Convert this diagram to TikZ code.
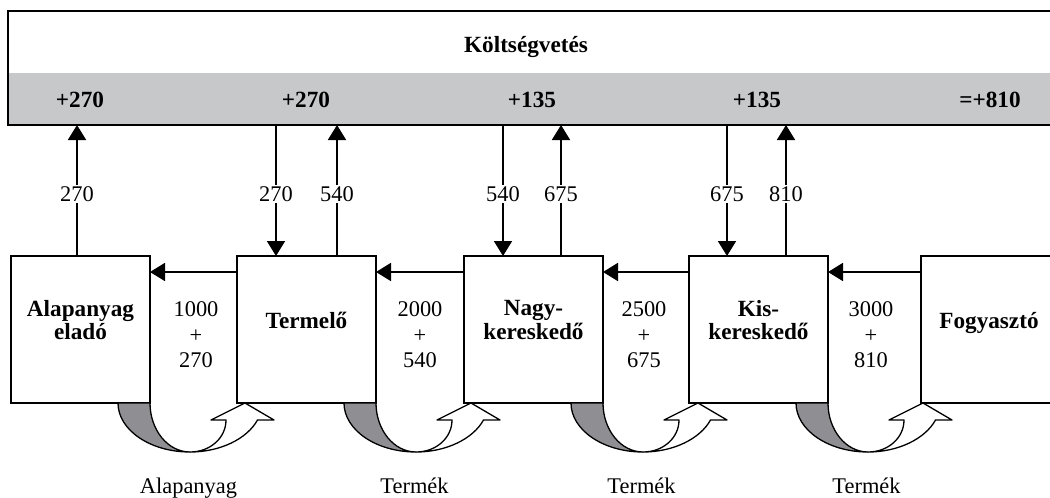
\documentclass[tikz,border=0pt]{standalone}
\usepackage{fontspec}
\setmainfont{Liberation Serif}
\usetikzlibrary{arrows.meta,calc}
\definecolor{bandgray}{RGB}{199,200,202}
\definecolor{twistgray}{RGB}{143,143,147}

\begin{document}
\begin{tikzpicture}[x=0.5pt,y=-0.5pt,
  box/.style={draw, line width=0.9pt, minimum width=69.5pt, minimum height=73.5pt, inner sep=0pt, outer sep=0pt},
  boxtext/.style={font=\fontsize{11.6}{11.6}\selectfont\bfseries, align=center, inner sep=0pt},
  sumtext/.style={font=\fontsize{11.6}{12}\selectfont\bfseries, anchor=base, inner sep=0pt},
  num/.style={font=\fontsize{11.2}{12.75}\selectfont, align=center, inner sep=0pt},
  flow/.style={line width=0.9pt, -{Triangle[length=7.5pt,width=9pt]}},
  tag/.style={font=\fontsize{11.2}{12}\selectfont, fill=white, inner sep=0.6pt},
  ribbon/.style={draw, line width=0.65pt, line join=round},
  goods/.style={font=\fontsize{11.2}{12}\selectfont, anchor=base, inner sep=0pt},
]
\clip (0,0) rectangle (1050,498);

% budget panel
\path node[minimum width=531pt, minimum height=57pt, anchor=north west, inner sep=0pt, outer sep=0pt] (budget) at (8,11) {};
\fill[bandgray] (budget.west |- 0,73) rectangle (budget.south east);
\draw[line width=1pt] (budget.north west) rectangle (budget.south east);
\node[sumtext] (title) at (526,52) {Költségvetés};
\node[sumtext] (s1) at (80,107) {+270};
\node[sumtext] (s2) at (306,107) {+270};
\node[sumtext] (s3) at (532,107) {+135};
\node[sumtext] (s4) at (757,107) {+135};
\node[sumtext] (s5) at (990,107) {=+810};

% actors
\node[box] (alap) at (80.5,329.5) {};
\node[box] (term) at (306.5,329.5) {};
\node[box] (nagy) at (533.5,329.5) {};
\node[box] (kis)  at (758.5,329.5) {};
\node[box, minimum width=74.5pt] (fogy) at (995.5,329.5) {};

\node[boxtext] (alap-t) at (80.5,320) {Alapanyag\\eladó};
\node[boxtext, anchor=base] (term-t) at (306.5,328) {Termelő};
\node[boxtext] (nagy-t) at (533.5,320) {Nagy-\\kereskedő};
\node[boxtext] (kis-t)  at (758.5,320) {Kis-\\kereskedő};
\node[boxtext, anchor=base] (fogy-t) at (989,328) {Fogyasztó};

% flows to and from the budget
\coordinate (a1) at ($(alap.north)+(-3.5,0)$);
\coordinate (t1) at ($(term.north)+(-30.5,0)$);
\coordinate (t2) at ($(term.north)+(30.5,0)$);
\coordinate (n1) at ($(nagy.north)+(-30.5,0)$);
\coordinate (n2) at ($(nagy.north)+(27.5,0)$);
\coordinate (k1) at ($(kis.north)+(-31.5,0)$);
\coordinate (k2) at ($(kis.north)+(27.5,0)$);

\draw[flow] (a1) -- (a1 |- budget.south) node[tag, pos=0.473] (la1) {270};
\draw[flow] (t1 |- budget.south) -- (t1) node[tag, pos=0.527] (lt1) {270};
\draw[flow] (t2) -- (t2 |- budget.south) node[tag, pos=0.473] (lt2) {540};
\draw[flow] (n1 |- budget.south) -- (n1) node[tag, pos=0.527] (ln1) {540};
\draw[flow] (n2) -- (n2 |- budget.south) node[tag, pos=0.473] (ln2) {675};
\draw[flow] (k1 |- budget.south) -- (k1) node[tag, pos=0.527] (lk1) {675};
\draw[flow] (k2) -- (k2 |- budget.south) node[tag, pos=0.473] (lk2) {810};

% payments along the chain
\coordinate (h1) at ($(term.north west)+(0,16)$);
\coordinate (h2) at ($(nagy.north west)+(0,16)$);
\coordinate (h3) at ($(kis.north west)+(0,16)$);
\coordinate (h4) at ($(fogy.north west)+(0,16)$);
\draw[flow] (h1) -- (h1 -| alap.east);
\draw[flow] (h2) -- (h2 -| term.east);
\draw[flow] (h3) -- (h3 -| nagy.east);
\draw[flow] (h4) -- (h4 -| kis.east);

\node[num] (p1) at (196,335) {1000\\+\\270};
\node[num] (p2) at (420,335) {2000\\+\\540};
\node[num] (p3) at (644,335) {2500\\+\\675};
\node[num] (p4) at (871,335) {3000\\+\\810};

% goods passed on: twisted U-turn arrows under the boxes
\foreach \b/\t [count=\i] in {alap/Alapanyag, term/Termék, nagy/Termék, kis/Termék}{
  \begin{scope}[shift={(\b.south east)}]
    \filldraw[ribbon, fill=twistgray] (-32,0) .. controls (-32,27) and (0.2,49) .. (40,49)
      .. controls (17.9,49) and (0,27) .. (0,0) -- cycle;
    \filldraw[ribbon, fill=white] (40,49) .. controls (70,49) and (97,36) .. (107.5,17)
      -- (124,17) -- (95,0) -- (61,17) -- (76,17)
      .. controls (76,35) and (60,49) .. (40,49) -- cycle;
    \node[goods] (g\i) at (38.5,90) {\t};
  \end{scope}
}
\end{tikzpicture}
\end{document}
